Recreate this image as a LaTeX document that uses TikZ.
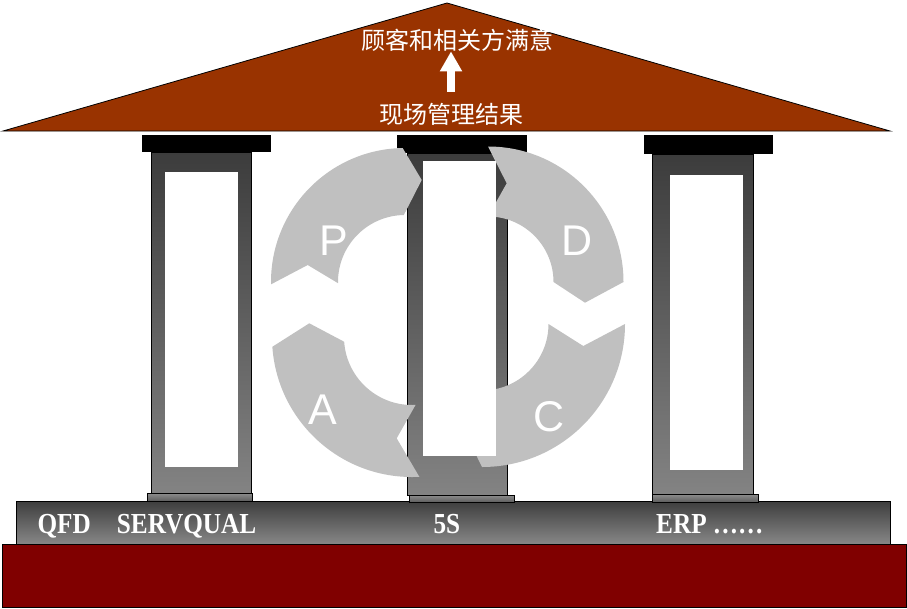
\documentclass[tikz,border=0pt]{standalone}
\usepackage{fontspec}
\newfontfamily\cjkfont{Noto Sans CJK SC}
\newfontfamily\letterfont{Liberation Sans}
\newfontfamily\slabfont{Liberation Serif}
\usetikzlibrary{calc,arrows.meta}
\definecolor{roofred}{HTML}{993300}
\definecolor{basered}{HTML}{800000}
\definecolor{arrowgray}{HTML}{C0C0C0}
\definecolor{pilltop}{HTML}{3C3C3C}
\definecolor{pillbot}{HTML}{838383}
\definecolor{slabtop}{HTML}{3E3E3E}
\definecolor{slabbot}{HTML}{878787}
\definecolor{plinthtop}{HTML}{8E8E8E}
\definecolor{plinthbot}{HTML}{5E5E5E}
\tikzset{
  roof/.style={fill=roofred, draw=black, line width=0.8pt},
  shaft/.style={draw=black, line width=0.9pt, top color=pilltop, bottom color=pillbot},
  capbar/.style={fill=black},
  plinth/.style={draw=black, line width=0.8pt, top color=plinthtop, bottom color=plinthbot},
  slab/.style={draw=black, line width=0.8pt, top color=slabtop, bottom color=slabbot},
  foundation/.style={fill=basered, draw=black, line width=0.8pt},
  panel/.style={fill=white},
  cycgray/.style={fill=arrowgray},
  rooftext/.style={text=white, font=\cjkfont\fontsize{24}{26}\selectfont, inner sep=0pt},
  slabtext/.style={text=white, font=\slabfont\bfseries\fontsize{29}{30}\selectfont, inner sep=0pt, anchor=base west},
  pdcaletter/.style={text=white, font=\letterfont\fontsize{43}{43}\selectfont, inner sep=0pt},
  uparrow/.style={draw=white, line width=8pt, -{Triangle[width=21pt,length=20pt]}}
}
% center, outer radius, inner radius, tail angle, head angle, tip, notch
\newcommand\cyclearrow[7]{%
  \fill[cycgray] ($#1+(#4:#2)$) arc[start angle=#4, end angle=#5, radius=#2]
    -- #6 -- ($#1+(#5:#3)$) arc[start angle=#5, end angle=#4, radius=#3]
    -- #7 -- cycle;}
\begin{document}
\begin{tikzpicture}[x=1pt,y=-1pt]
\useasboundingbox (0,0) rectangle (907,608);
% roof
\filldraw[roof] (3,131) -- (447,3) -- (890,131) -- cycle;
% slab and foundation
\draw[slab] (16,501) rectangle (890,544);
\draw[foundation] (2,544) rectangle (906.5,607);
% left pillar
\draw[shaft] (151,152) rectangle (251.5,493);
\fill[capbar] (142,134.5) rectangle (271,152);
\draw[plinth] (147,493) rectangle (252.5,501);
\fill[panel] (165,172) rectangle (238,467);
% middle pillar
\draw[shaft] (407,153) rectangle (507,495);
\fill[capbar] (397,134.5) rectangle (527,153);
\draw[plinth] (409,495) rectangle (514,502);
% right pillar
\draw[shaft] (652,154) rectangle (753,494);
\fill[capbar] (644,134.5) rectangle (773,154);
\draw[plinth] (652,494) rectangle (758,502);
\fill[panel] (670,175) rectangle (743,470);
% PDCA cycle
\cyclearrow{(405,282)}{134}{67}{179}{269}{(421.7,180)}{(307.7,265)}
\cyclearrow{(488,282)}{135.5}{65.5}{270}{360}{(585,302.7)}{(506.7,183.3)}
\cyclearrow{(482,324)}{143}{66.5}{0}{90}{(463,428)}{(583.3,346)}
\cyclearrow{(412,337)}{140}{68}{87}{176}{(309.3,323.3)}{(396.7,438.3)}
% middle panel above the cycle
\fill[panel] (423,161) rectangle (496,456);
% letters
\node[pdcaletter] (letP) at (334,241) {P};
\node[pdcaletter] (letD) at (577.5,241) {D};
\node[pdcaletter] (letC) at (549,416.5) {C};
\node[pdcaletter] (letA) at (323,409.5) {A};
% roof texts
\node[rooftext] (sat) at (457.5,40) {顾客和相关方满意};
\node[rooftext] (res) at (451,114) {现场管理结果};
\draw[uparrow, shorten <=11pt] (res.north) -- (res.north |- sat.south);
% slab texts
\node[slabtext] (qfd) at (37.3,533) {\scalebox{0.87}[1]{QFD}};
\node[slabtext] (servqual) at (116.7,533) {\scalebox{0.87}[1]{SERVQUAL}};
\node[slabtext] (fives) at (433.3,533) {\scalebox{0.87}[1]{5S}};
\node[slabtext] (erp) at (656,533) {\scalebox{0.87}[1]{ERP ……}};
\end{tikzpicture}
\end{document}
